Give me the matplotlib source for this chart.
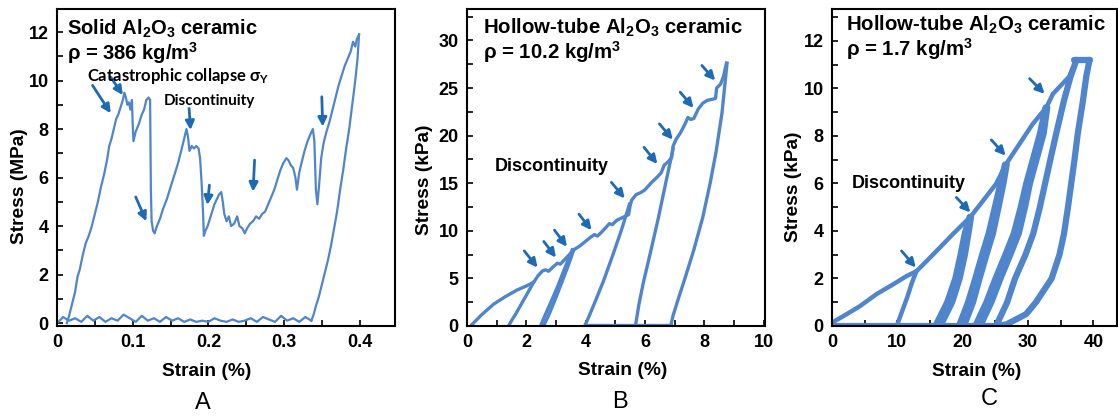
import matplotlib
matplotlib.use("Agg")
import matplotlib.pyplot as plt
from matplotlib.ticker import MultipleLocator

plt.rcParams['font.family'] = ['Liberation Sans', 'DejaVu Sans']
plt.rcParams['font.weight'] = 'bold'
plt.rcParams['axes.labelweight'] = 'bold'
plt.rcParams['mathtext.default'] = 'regular'

LINE = '#4f85cc'
ARROW = '#1d6bb6'

# ---------------- Panel A data ----------------
a_load_x = [0.013, 0.016, 0.020, 0.024, 0.027, 0.030, 0.034, 0.038, 0.042, 0.046, 0.050, 0.054,
            0.058, 0.062, 0.066, 0.069, 0.072, 0.075, 0.078, 0.081, 0.084, 0.087, 0.089, 0.091,
            0.093, 0.095, 0.097, 0.099, 0.100, 0.101, 0.104, 0.108, 0.112, 0.115, 0.118, 0.121,
            0.123, 0.124, 0.125, 0.127, 0.129, 0.132, 0.136, 0.140, 0.145, 0.150, 0.155, 0.160,
            0.164, 0.168, 0.171, 0.173, 0.175, 0.178, 0.181, 0.184, 0.187, 0.189, 0.191, 0.193,
            0.194, 0.196, 0.199, 0.202, 0.205, 0.208, 0.211, 0.214, 0.217, 0.219, 0.221, 0.224,
            0.227, 0.230, 0.234, 0.238, 0.241, 0.245, 0.248, 0.251, 0.255, 0.259, 0.263, 0.267,
            0.271, 0.275, 0.279, 0.283, 0.287, 0.291, 0.295, 0.299, 0.303, 0.306, 0.309, 0.312,
            0.315, 0.317, 0.320, 0.323, 0.327, 0.331, 0.335, 0.338, 0.340, 0.342, 0.344, 0.346,
            0.349, 0.352, 0.356, 0.360, 0.364, 0.368, 0.372, 0.376, 0.380, 0.384, 0.388, 0.391,
            0.394, 0.396, 0.399]
a_load_y = [0.0, 0.3, 0.8, 1.3, 1.9, 2.2, 2.8, 3.3, 3.6, 4.0, 4.5, 5.0,
            5.6, 6.1, 6.7, 7.3, 7.6, 8.0, 8.4, 8.6, 8.9, 9.2, 9.5, 9.3,
            9.0, 9.1, 8.8, 9.2, 8.2, 7.5, 7.9, 8.2, 8.6, 8.8, 9.2, 9.3,
            9.2, 5.5, 4.2, 3.8, 3.7, 4.0, 4.3, 4.7, 5.1, 5.6, 6.1, 6.6,
            7.1, 7.6, 8.0, 7.7, 7.1, 7.3, 7.2, 7.3, 7.2, 6.8, 5.8, 4.5,
            3.6, 3.8, 4.0, 4.3, 4.6, 4.9, 5.1, 5.3, 5.4, 5.0, 4.5, 4.2,
            4.4, 4.0, 4.1, 4.4, 4.0, 3.9, 3.7, 3.9, 4.1, 4.2, 4.4, 4.3,
            4.5, 4.6, 4.9, 5.2, 5.5, 5.9, 6.3, 6.6, 6.8, 6.7, 6.5, 6.4,
            6.0, 5.5, 6.2, 6.6, 7.1, 7.5, 7.8, 8.0, 7.5, 5.5, 4.9, 5.6,
            6.8, 7.4, 7.9, 8.3, 8.8, 9.3, 9.8, 10.2, 10.6, 10.9, 11.2, 11.6,
            11.4, 11.7, 11.9]
a_unload_x = [0.399, 0.397, 0.394, 0.390, 0.386, 0.382, 0.378, 0.374, 0.370, 0.366, 0.362,
              0.358, 0.354, 0.350, 0.346, 0.342, 0.339, 0.336]
a_unload_y = [11.9, 10.9, 10.0, 9.0, 8.0, 7.2, 6.3, 5.5, 4.6, 3.9, 3.2,
              2.6, 2.1, 1.6, 1.1, 0.7, 0.35, 0.1]
a_base_x = [0.336, 0.328, 0.320, 0.312, 0.304, 0.296, 0.288, 0.280, 0.272, 0.264, 0.256, 0.248,
            0.240, 0.232, 0.224, 0.216, 0.208, 0.200, 0.192, 0.184, 0.176, 0.168, 0.160, 0.152,
            0.144, 0.136, 0.128, 0.120, 0.112, 0.104, 0.096, 0.088, 0.080, 0.072, 0.064, 0.056,
            0.048, 0.040, 0.032, 0.024, 0.016, 0.008, 0.002]
a_base_y = [0.1, 0.25, 0.05, 0.2, 0.1, 0.3, 0.05, 0.15, 0.25, 0.05, 0.2, 0.1,
            0.05, 0.15, 0.05, 0.1, 0.2, 0.05, 0.1, 0.05, 0.15, 0.05, 0.2, 0.1,
            0.25, 0.05, 0.2, 0.1, 0.3, 0.05, 0.2, 0.35, 0.1, 0.2, 0.05, 0.25,
            0.1, 0.3, 0.05, 0.2, 0.1, 0.25, 0.05]
a_arrows = [((0.047, 9.8), (0.071, 8.65)), ((0.071, 10.14), (0.087, 9.4)),
            ((0.1745, 8.85), (0.1764, 7.96)), ((0.104, 5.2), (0.118, 4.2)),
            ((0.2013, 5.69), (0.1987, 4.87)), ((0.261, 6.72), (0.259, 5.42)),
            ((0.3498, 9.33), (0.351, 8.1))]

# ---------------- Panel B data ----------------
b_env_x = [0.12, 0.5, 0.9, 1.3, 1.7, 2.0, 2.25, 2.4, 2.55, 2.65, 2.75, 2.9, 3.05, 3.15, 3.3, 3.45,
           3.6, 3.8, 4.0, 4.2, 4.3, 4.4, 4.55, 4.7, 4.8, 4.9, 5.05, 5.25, 5.45, 5.5, 5.55, 5.7,
           5.85, 6.0, 6.2, 6.4, 6.55, 6.65, 6.8, 6.9, 6.95, 7.05, 7.2, 7.35, 7.45, 7.55, 7.65,
           7.8, 7.95, 8.1, 8.25, 8.38, 8.42, 8.55, 8.65, 8.75]
b_env_y = [0.0, 1.2, 2.3, 3.1, 3.8, 4.2, 4.6, 5.3, 5.8, 5.9, 5.75, 6.2, 6.6, 6.5, 7.0, 7.5,
           8.0, 8.4, 8.9, 9.4, 9.6, 9.45, 9.9, 10.4, 10.75, 10.65, 11.1, 11.4, 11.7, 12.6, 13.2, 13.8,
           14.0, 14.3, 15.0, 15.6, 16.1, 16.9, 17.3, 17.7, 18.9, 19.6, 20.3, 21.2, 21.9, 21.7, 21.8,
           22.8, 23.4, 23.7, 23.8, 23.9, 25.0, 25.4, 26.2, 27.6]
b_loop1_x = [2.25, 2.05, 1.85, 1.65, 1.5, 1.4]
b_loop1_y = [4.6, 3.5, 2.4, 1.3, 0.55, 0.0]
b_loop2a_x = [3.55, 3.3, 3.05, 2.8, 2.6, 2.48]
b_loop2a_y = [8.0, 6.1, 4.1, 2.3, 0.9, 0.0]
b_loop2b_x = [2.58, 2.75, 2.95, 3.2, 3.42, 3.6]
b_loop2b_y = [0.0, 1.1, 2.6, 4.6, 6.4, 8.0]
b_loop3_x = [5.48, 5.2, 4.9, 4.6, 4.3, 4.1, 3.97]
b_loop3_y = [12.8, 10.0, 7.3, 4.7, 2.4, 0.9, 0.0]
b_loop4_x = [6.95, 6.7, 6.45, 6.2, 5.95, 5.8, 5.68]
b_loop4_y = [18.6, 15.0, 11.3, 7.9, 4.6, 2.3, 0.0]
b_loop5_x = [8.77, 8.6, 8.4, 8.2, 7.95, 7.65, 7.35, 7.1, 6.95, 6.87]
b_loop5_y = [27.6, 22.4, 18.3, 15.0, 11.4, 8.0, 5.0, 2.6, 1.1, 0.0]
b_base_x = [3.97, 5.68, 6.87]
b_base_y = [0.08, 0.08, 0.08]
b_arrows = [((1.93, 7.89), (2.38, 6.14)), ((2.59, 8.88), (3.0, 7.19)),
            ((2.95, 10.07), (3.37, 8.32)), ((3.775, 11.75), (4.2, 10.07)),
            ((4.87, 15.09), (5.32, 13.4)), ((5.97, 18.77), (6.42, 17.02)),
            ((6.49, 21.23), (6.94, 19.58)), ((7.19, 24.56), (7.64, 22.91)),
            ((7.92, 27.37), (8.37, 25.79))]

# ---------------- Panel C data ----------------
c_env_x = [0.0, 2.2, 4.3, 6.8, 9.4, 11.4, 12.9, 14.5, 16.5, 18.5, 21.2, 23.1, 25.1, 26.6,
           28.7, 30.7, 32.8, 33.8, 34.8, 36.3, 37.4]
c_env_y = [0.14, 0.49, 0.84, 1.34, 1.76, 2.1, 2.3, 2.74, 3.3, 3.87, 4.6, 5.27, 5.98, 6.8,
           7.67, 8.5, 9.2, 9.77, 10.06, 10.5, 11.2]
c_b1_x = [9.9, 10.7, 11.5, 12.2, 12.9]
c_b1_y = [0.0, 0.6, 1.2, 1.8, 2.3]
c_b2_y = [0.0, 1.0, 2.0, 3.0, 3.9, 4.6]
c_b2a_x = [15.8, 17.6, 18.85, 19.65, 20.3, 21.05]
c_b2b_x = [16.6, 18.4, 19.55, 20.35, 20.9, 21.3]
c_b3_y = [0.0, 1.0, 2.0, 3.0, 3.9, 5.0, 6.0, 6.8]
c_b3a_x = [19.4, 20.8, 21.9, 22.95, 23.95, 24.9, 25.75, 26.45]
c_b3b_x = [20.2, 21.6, 22.6, 23.65, 24.65, 25.5, 26.25, 26.75]
c_b4_y = [0.0, 1.0, 2.0, 3.0, 3.9, 5.0, 6.0, 7.0, 8.1, 9.2]
c_b4a_x = [21.9, 23.6, 25.0, 26.5, 27.8, 28.85, 29.7, 30.7, 31.8, 32.65]
c_b4b_x = [22.7, 24.4, 25.8, 27.3, 28.6, 29.55, 30.3, 31.3, 32.4, 32.95]
c_b5_y = [0.0, 1.0, 2.0, 3.0, 3.9, 5.0, 6.0, 7.0, 8.1, 9.5, 10.5, 11.2]
c_b5_x = [25.1, 26.8, 28.0, 29.6, 30.8, 31.8, 32.6, 33.4, 34.3, 35.5, 36.5, 37.4]
c_out_y = [0.0, 0.07, 0.5, 1.0, 2.0, 3.0, 3.9, 5.0, 6.0, 7.0, 8.1, 9.5, 10.5, 11.2]
c_out_x = [25.0, 26.7, 29.7, 31.2, 33.6, 34.8, 35.5, 36.1, 36.6, 37.1, 37.6, 38.4, 38.9, 39.4]
c_top_x = [37.0, 39.4]
c_top_y = [11.2, 11.2]
c_base_x = [0.0, 25.0]
c_base_y = [0.03, 0.03]
c_arrows = [((10.64, 3.16), (12.82, 2.46)), ((19.03, 5.41), (21.17, 4.78)),
            ((24.38, 7.83), (26.56, 7.17)), ((30.23, 10.41), (32.52, 9.77))]

# ---------------- Figure ----------------
W, H = 1118, 417
fig = plt.figure(figsize=(W / 100, H / 100), dpi=100)


def px_axes(left, top, right, bottom):
    return fig.add_axes([left / W, 1 - bottom / H, (right - left) / W, (bottom - top) / H])


axA = px_axes(57, 9, 395, 326)
axB = px_axes(467, 9, 765, 326)
axC = px_axes(832, 9, 1117, 326)


def style(ax):
    for s in ax.spines.values():
        s.set_linewidth(1.5)
    ax.tick_params(direction='in', which='both', length=4, width=1.2, labelsize=13,
                   top=False, right=False, pad=6)
    for lab in ax.get_xticklabels() + ax.get_yticklabels():
        lab.set_fontweight('bold')


def arrows(ax, lst):
    for (s, e) in lst:
        ax.annotate('', xy=e, xytext=s,
                    arrowprops=dict(arrowstyle='-|>', color=ARROW, lw=2.0,
                                    mutation_scale=13, shrinkA=0, shrinkB=0))


# Panel A
axA.plot(a_base_x, a_base_y, color=LINE, lw=1.6)
axA.plot(a_load_x, a_load_y, color=LINE, lw=1.6)
axA.plot(a_unload_x, a_unload_y, color=LINE, lw=1.6)
arrows(axA, a_arrows)
axA.set_xlim(0, 0.4465)
axA.set_ylim(-0.12, 12.95)
axA.xaxis.set_major_locator(MultipleLocator(0.1))
axA.xaxis.set_minor_locator(MultipleLocator(0.05))
axA.yaxis.set_major_locator(MultipleLocator(2))
axA.yaxis.set_minor_locator(MultipleLocator(1))
style(axA)
axA.xaxis.set_major_formatter(plt.FuncFormatter(lambda v, p: '0' if abs(v) < 1e-9 else f'{v:.1f}'))
axA.set_xlabel('Strain (%)', fontsize=13.8)
axA.xaxis.set_label_coords(0.444, -0.117)
axA.xaxis.label.set_va('top')
axA.set_ylabel('Stress (MPa)', fontsize=13.8)
axA.yaxis.set_label_coords(-0.086, 0.44)
axA.text(0.03, 0.972, 'Solid Al$_2$O$_3$ ceramic', transform=axA.transAxes,
         fontsize=14.5, fontweight='bold', va='top', ha='left')
axA.text(0.03, 0.862, 'ρ = 386 kg/m$^3$', transform=axA.transAxes,
         fontsize=14.5, fontweight='bold', va='center', ha='left')
axA.text(0.09, 0.79, 'Catastrophic collapse σ$_Y$', transform=axA.transAxes,
         fontsize=12, fontweight='bold', va='center', ha='left',
         family=['Lato', 'DejaVu Sans'])
axA.text(0.315, 0.71, 'Discontinuity', transform=axA.transAxes,
         fontsize=11, fontweight='bold', va='center', ha='left',
         family=['Lato', 'DejaVu Sans'])

# Panel B
axB.plot(b_env_x, b_env_y, color=LINE, lw=2.4, solid_joinstyle='round')
for xs, ys in [(b_loop1_x, b_loop1_y), (b_loop2a_x, b_loop2a_y), (b_loop2b_x, b_loop2b_y),
               (b_loop3_x, b_loop3_y), (b_loop4_x, b_loop4_y), (b_loop5_x, b_loop5_y),
               (b_base_x, b_base_y)]:
    axB.plot(xs, ys, color=LINE, lw=2.4, solid_joinstyle='round')
arrows(axB, b_arrows)
axB.set_xlim(0, 10.05)
axB.set_ylim(0, 33.3)
axB.xaxis.set_major_locator(MultipleLocator(2))
axB.xaxis.set_minor_locator(MultipleLocator(1))
axB.yaxis.set_major_locator(MultipleLocator(5))
axB.yaxis.set_minor_locator(MultipleLocator(2.5))
style(axB)
axB.set_xlabel('Strain (%)', fontsize=13.8)
axB.xaxis.set_label_coords(0.523, -0.114)
axB.xaxis.label.set_va('top')
axB.set_ylabel('Stress (kPa)', fontsize=13.8)
axB.yaxis.set_label_coords(-0.114, 0.46)
axB.text(0.055, 0.94, 'Hollow-tube Al$_2$O$_3$ ceramic', transform=axB.transAxes,
         fontsize=14.7, fontweight='bold', va='center', ha='left')
axB.text(0.055, 0.865, 'ρ = 10.2 kg/m$^3$', transform=axB.transAxes,
         fontsize=14.7, fontweight='bold', va='center', ha='left')
axB.text(0.95, 16.8, 'Discontinuity', fontsize=13, fontweight='bold', va='center', ha='left')

# Panel C
for xs, ys, lw in [(c_base_x, c_base_y, 3.0), (c_env_x, c_env_y, 3.2),
                   (c_b1_x, c_b1_y, 3.2),
                   (c_b2a_x, c_b2_y, 4.3), (c_b2b_x, c_b2_y, 4.3),
                   (c_b3a_x, c_b3_y, 4.3), (c_b3b_x, c_b3_y, 4.3),
                   (c_b4a_x, c_b4_y, 4.3), (c_b4b_x, c_b4_y, 4.3),
                   (c_b5_x, c_b5_y, 4.5), (c_out_x, c_out_y, 4.5), (c_top_x, c_top_y, 4.5)]:
    axC.plot(xs, ys, color=LINE, lw=lw, solid_joinstyle='round', solid_capstyle='round')
arrows(axC, c_arrows)
axC.set_xlim(0, 43.6)
axC.set_ylim(0, 13.34)
axC.xaxis.set_major_locator(MultipleLocator(10))
axC.xaxis.set_minor_locator(MultipleLocator(5))
axC.yaxis.set_major_locator(MultipleLocator(2))
axC.yaxis.set_minor_locator(MultipleLocator(1))
style(axC)
axC.set_xlabel('Strain (%)', fontsize=13.8)
axC.xaxis.set_label_coords(0.507, -0.117)
axC.xaxis.label.set_va('top')
axC.set_ylabel('Stress (kPa)', fontsize=13.8)
axC.yaxis.set_label_coords(-0.105, 0.44)
axC.text(0.05, 0.95, 'Hollow-tube Al$_2$O$_3$ ceramic', transform=axC.transAxes,
         fontsize=14.7, fontweight='bold', va='center', ha='left')
axC.text(0.05, 0.875, 'ρ = 1.7 kg/m$^3$', transform=axC.transAxes,
         fontsize=14.7, fontweight='bold', va='center', ha='left')
axC.text(3.0, 5.98, 'Discontinuity', fontsize=13, fontweight='bold', va='center', ha='left')

# Panel letters
for x, y, t in [(203, 403, 'A'), (620, 402, 'B'), (989, 399, 'C')]:
    fig.text(x / W, 1 - y / H, t, fontsize=17, fontweight='normal', ha='center', va='center')

fig.savefig('out.png', dpi=100)
